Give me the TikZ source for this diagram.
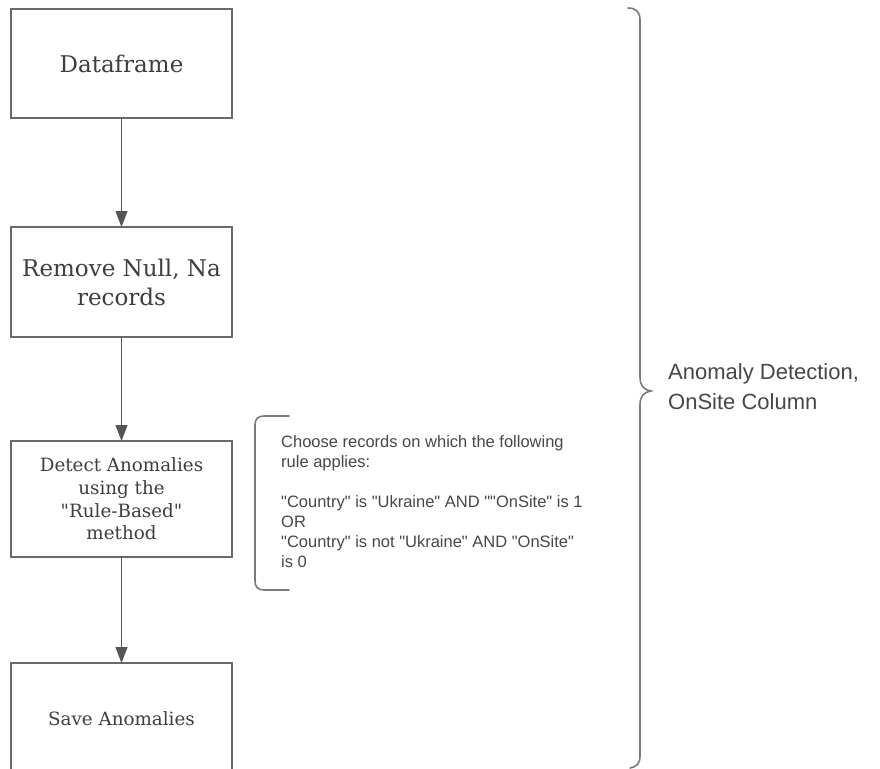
\documentclass[tikz,border=0pt]{standalone}
\usepackage{fontspec}
\newfontfamily\boxserif{DejaVu Serif}
\newfontfamily\labelsans{Liberation Sans}
\usetikzlibrary{arrows.meta}
\definecolor{boxline}{HTML}{6A6A6A}
\definecolor{inkgray}{HTML}{474747}
\definecolor{serifink}{HTML}{3E3E3E}
\definecolor{arrowgray}{HTML}{555555}
\definecolor{bracegray}{HTML}{7A7A7A}
\tikzset{
  stepbox/.style={draw=boxline, line width=1.5pt, rectangle, inner sep=0pt, outer sep=0pt,
    minimum width=221pt, align=center, text=serifink},
  bigtext/.style={font=\boxserif\fontsize{23}{29}\selectfont},
  smalltext/.style={font=\boxserif\fontsize{18.3}{22.7}\selectfont},
  flow/.style={draw=arrowgray, line width=1.3pt, -{Triangle[length=16pt,width=12pt]}},
  bracket/.style={draw=bracegray, line width=1.6pt, line cap=round},
  sidetext/.style={text=inkgray, inner sep=0pt, anchor=west, align=left}
}
\begin{document}
\begin{tikzpicture}[x=1pt, y=-1pt]
  \useasboundingbox (0,0) rectangle (880,768);
  \clip (0,0) rectangle (880,768);
  \fill[white] (0,0) rectangle (880,768);

  % process steps
  \node[stepbox, bigtext, minimum height=109pt] (df) at (121.5,63.5) {Dataframe};
  \node[stepbox, bigtext, minimum height=110pt] (clean) at (121.5,282) {Remove Null, Na\\records};
  \node[stepbox, smalltext, minimum height=116pt] (detect) at (121.5,499) {Detect Anomalies\\using the\\"Rule-Based"\\method};
  \node[stepbox, smalltext, minimum height=112pt] (save) at (121.5,719) {Save Anomalies};

  % connectors
  \draw[flow] (df) -- (clean);
  \draw[flow] (clean) -- (detect);
  \draw[flow] (detect) -- (save);

  % bracket around the rule description
  \draw[bracket] (289,416) -- (264,416) .. controls (258,416) and (255,419) .. (255,425)
    -- (255,581) .. controls (255,587) and (258,590) .. (264,590) -- (289,590);
  \node[sidetext, font={\labelsans\fontsize{16.5}{20}\selectfont}] (rule) at (281,502)
    {Choose records on which the following\\rule applies:\\[20pt]"Country" is "Ukraine" AND ""OnSite" is 1\\OR\\"Country" is not "Ukraine" AND "OnSite"\\is 0};

  % curly brace spanning the whole pipeline
  \draw[bracket] (628,8) .. controls (636,8) and (640,12) .. (640,20)
    -- (640,377) .. controls (640,386) and (644,390) .. (651,391)
    .. controls (644,392) and (640,396) .. (640,405)
    -- (640,756) .. controls (640,764) and (636,767) .. (630,768);
  \node[sidetext, font={\labelsans\fontsize{22}{30}\selectfont}] (title) at (668,387)
    {Anomaly Detection,\\OnSite Column};
\end{tikzpicture}
\end{document}
